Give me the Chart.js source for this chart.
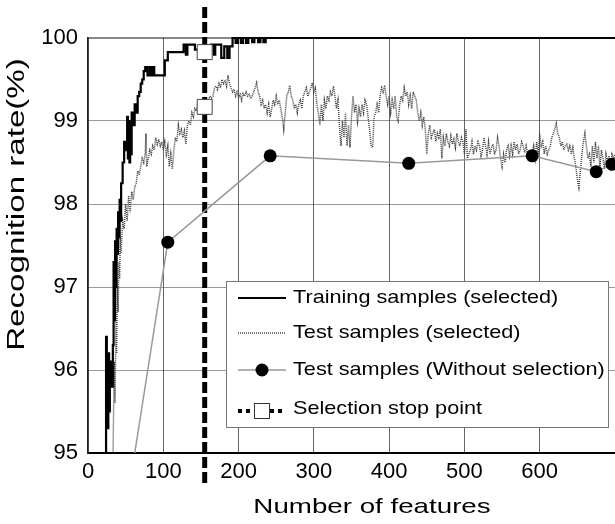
<!DOCTYPE html>
<html>
<head>
<meta charset="utf-8">
<script src="https://cdn.jsdelivr.net/npm/chart.js@4.4.0/dist/chart.umd.min.js"></script>
<style>
  html, body { margin: 0; padding: 0; background: #fff; }
  #wrap { width: 615px; height: 524px; }
</style>
</head>
<body>
<div id="wrap"><canvas id="chart" width="615" height="524"></canvas></div>
<script>
// ---------- values ----------

// training samples (selected) - held value, changes at each x
const trainX = [22, 24, 25, 27, 28, 29, 31, 33, 34, 35, 36, 37, 38, 39, 40, 41, 42, 43, 44, 46,
  48, 50, 52, 53, 54, 55, 56, 57, 58, 60, 62, 64, 66, 68, 70, 72, 74, 76, 79, 82,
  84, 86, 88, 102, 106, 127, 130, 132, 142, 163, 167, 169, 177, 181, 185, 188, 192, 196, 199, 203,
  206, 210, 213, 218, 221, 226, 229, 233, 236, 700];
const trainY = [94.5, 96.4, 95.3, 96.2, 95.5, 96.1, 95.8, 96.3, 97.3, 96.6, 97.55, 97.0, 97.7, 97.4, 97.9, 97.6, 98.05, 97.8, 98.25, 98.5,
  98.75, 98.65, 99.05, 98.55, 99.0, 98.5, 98.95, 98.6, 99.1, 98.95, 99.2, 99.1, 99.3, 99.35, 99.45, 99.5, 99.6, 99.65, 99.55, 99.65,
  99.55, 99.65, 99.55, 99.73, 99.83, 99.92, 99.8, 99.92, 99.86, 99.92, 99.8, 99.92, 99.76, 99.9, 99.76, 99.9, 100, 99.94, 100, 99.94,
  100, 99.94, 100, 99.95, 100, 99.95, 100, 99.95, 100, 100];

// test samples (selected)
const testX = [33, 34, 35, 36, 37, 38, 39, 40, 41, 42, 43, 44,
  46, 48, 50, 52, 54, 56, 58, 60, 62, 64, 66, 68, 70, 72, 74, 76, 77, 78,
  80, 82, 84, 86, 88, 90, 92, 94, 96, 98, 100, 102, 104, 106, 108, 110, 112, 114, 116, 118,
  120, 122, 124, 126, 128, 130, 132, 134, 136, 138, 140, 142, 144, 146, 148, 150, 152, 155, 158,
  160, 162, 164, 166, 168, 170, 172, 174, 176, 178, 180, 182, 184, 186, 188, 190, 192, 194, 196, 198,
  200, 202, 204, 206, 208, 210, 212, 214, 216, 218, 220, 222, 224, 226, 228, 230, 232, 234, 236, 238,
  240, 242, 244, 246, 248, 250, 252, 254, 256, 258, 260, 262, 264, 266, 268, 270, 272, 274, 276, 278,
  280, 282, 284, 286, 288, 290, 292, 294, 296, 298, 300, 302, 304, 306, 308, 310, 312, 314, 316, 318,
  320, 322, 324, 326, 328, 330, 332, 334, 336, 338, 340, 342, 344, 346, 348, 350, 352, 354, 356, 358,
  360, 362, 364, 366, 368, 370, 372, 374, 376, 378, 380, 382, 384, 386, 388, 390, 392, 394, 396, 398,
  400, 402, 404, 406, 408, 410, 412, 414, 416, 418, 420, 422, 424, 426, 428, 430, 432, 434, 436, 438,
  440, 442, 444, 446, 448, 450, 452, 454, 456, 458, 460, 462, 464, 466, 468, 470, 472, 474, 476, 478,
  480, 482, 484, 486, 488, 490, 492, 494, 496, 498, 500, 502, 504, 506, 508, 510, 512, 514, 516, 518,
  520, 522, 524, 526, 528, 530, 532, 534, 536, 538, 540, 542, 544, 546, 548, 550, 552, 554, 556, 558,
  560, 562, 564, 566, 568, 570, 572, 574, 576, 578, 580, 582, 584, 586, 588, 590, 592, 594, 596, 598,
  600, 602, 604, 606, 608, 610, 612, 614, 616, 618, 620, 622, 624, 626, 628, 630, 632, 634, 636, 638,
  640, 642, 644, 646, 648, 650, 652, 654, 656, 658, 660, 662, 664, 666, 668, 670, 672, 674, 676, 678,
  680, 682, 684, 686, 688, 690, 692, 694, 696, 698, 700];
const testY = [94.8, 95.5, 96.1, 95.6, 96.6, 96.2, 97.0, 96.7, 97.3, 97.1, 97.6, 97.4,
  97.8, 97.7, 98.0, 97.8, 98.1, 97.9, 98.15, 98.05, 98.2, 98.25, 98.4, 98.35, 98.45, 98.55, 98.5, 98.6, 98.85, 98.45,
  98.55, 98.65, 98.6, 98.7, 98.65, 98.8, 98.72, 98.78, 98.7, 98.75, 98.65, 98.75, 98.6, 98.7, 98.45, 98.6, 98.42, 98.65, 98.8, 98.75,
  98.95, 98.85, 98.9, 98.8, 98.88, 98.72, 98.95, 99.0, 98.95, 99.1, 99.05, 99.15, 99.12, 99.2, 99.15, 99.22, 99.17, 99.17, 99.2,
  99.25, 99.3, 99.28, 99.3, 99.4, 99.42, 99.38, 99.45, 99.4, 99.5, 99.45, 99.48, 99.42, 99.55, 99.45, 99.4, 99.35, 99.38, 99.3, 99.35,
  99.28, 99.32, 99.25, 99.33, 99.3, 99.35, 99.3, 99.32, 99.27, 99.3, 99.35, 99.4, 99.46, 99.35, 99.3, 99.2, 99.25, 99.15, 99.2, 99.1,
  99.2, 99.05, 99.15, 99.25, 99.2, 99.3, 99.2, 99.25, 99.15, 99.05, 98.9, 99.1, 99.3, 99.35, 99.43, 99.3, 99.25, 99.15, 99.2, 99.1,
  99.2, 99.25, 99.15, 99.3, 99.35, 99.4, 99.3, 99.35, 99.4, 99.46, 99.35, 99.4, 99.2, 99.1, 98.95, 99.2, 99.0, 99.25, 99.15, 99.3,
  99.25, 99.35, 99.3, 99.42, 99.3, 99.15, 99.25, 98.95, 98.7, 99.0, 98.8, 99.1, 98.7, 98.95, 98.68, 99.05, 99.3, 99.1, 99.2, 99.0,
  99.15, 99.05, 99.2, 99.1, 99.25, 99.2, 99.05, 98.9, 98.7, 98.68, 99.05, 99.1, 99.2, 99.1, 99.3, 99.4, 99.35, 99.43, 99.3, 99.2,
  99.3, 99.1, 99.25, 99.15, 99.3, 99.05, 99.0, 99.2, 99.3, 99.25, 99.4, 99.3, 99.35, 99.2, 99.3, 99.15, 99.35, 99.3, 99.25, 99.1,
  99.0, 99.1, 98.95, 99.05, 98.9, 98.6, 98.85, 98.95, 98.8, 98.85, 98.9, 98.75, 98.85, 98.8, 98.9, 98.55, 98.8, 98.7, 98.85, 98.75,
  98.7, 98.82, 98.72, 98.78, 98.68, 98.85, 98.75, 98.7, 98.8, 98.75, 98.6, 98.9, 98.55, 98.6, 98.65, 98.75, 98.6, 98.7, 98.65, 98.75,
  98.7, 98.58, 98.65, 98.8, 98.7, 98.6, 98.75, 98.6, 98.68, 98.72, 98.6, 98.65, 98.8, 98.7, 98.55, 98.45, 98.6, 98.5, 98.65, 98.7,
  98.58, 98.7, 98.6, 98.75, 98.65, 98.72, 98.6, 98.65, 98.75, 98.7, 98.62, 98.7, 98.6, 98.65, 98.58, 98.62, 98.7, 98.55, 98.75, 98.6,
  98.82, 98.7, 98.75, 98.6, 98.7, 98.6, 98.65, 98.7, 98.8, 98.85, 98.9, 98.97, 98.85, 98.8, 98.7, 98.75, 98.65, 98.7, 98.72, 98.65,
  98.7, 98.6, 98.68, 98.55, 98.45, 98.3, 98.2, 98.4, 98.6, 98.75, 98.85, 98.7, 98.55, 98.6, 98.45, 98.7, 98.5, 98.75, 98.55, 98.7,
  98.45, 98.65, 98.55, 98.42, 98.6, 98.5, 98.58, 98.45, 98.6, 98.55, 98.6];

// test samples (without selection)
const noSelX = [50, 106, 242, 426, 590, 675, 696];
const noSelY = [94.3, 97.54, 98.58, 98.49, 98.58, 98.39, 98.48];

// selection stop point
const stopX = [155, 155];
const stopY = [99.83, 99.17];

const legendLabels = [
  'Training samples (selected)',
  'Test samples (selected)',
  'Test samples (Without selection)',
  'Selection stop point'
];
const xTitle = 'Number of features';
const yTitle = 'Recognition rate(%)';

const pts = (xs, ys) => xs.map((x, i) => ({ x, y: ys[i] }));
const FONT = '"Liberation Sans", Arial, sans-serif';

// ---------- dashed stop line, behind the marks ----------
const stopLine = {
  id: 'stopLine',
  beforeDatasetsDraw(chart) {
    const ctx = chart.ctx;
    const x = chart.scales.x.getPixelForValue(stopX[0]);
    ctx.save();
    ctx.strokeStyle = '#000';
    ctx.lineWidth = 5;
    ctx.setLineDash([11, 4]);
    ctx.beginPath();
    ctx.moveTo(x, 7);
    ctx.lineTo(x, 483);
    ctx.stroke();
    ctx.restore();
  }
};

// ---------- legend box + axis titles (text is a bit wide in the original) ----------
const overlay = {
  id: 'overlay',
  afterDraw(chart) {
    const ctx = chart.ctx;
    ctx.save();

    // legend frame
    ctx.fillStyle = '#fff';
    ctx.fillRect(226, 281, 382, 146);
    ctx.strokeStyle = '#777';
    ctx.lineWidth = 1;
    ctx.strokeRect(226.5, 281.5, 382, 146);

    const rows = [298, 333, 370, 409];
    const x0 = 238, x1 = 286, xm = 262;

    // training
    ctx.strokeStyle = '#000';
    ctx.lineWidth = 2;
    ctx.beginPath(); ctx.moveTo(x0, rows[0]); ctx.lineTo(x1, rows[0]); ctx.stroke();
    // test selected
    ctx.strokeStyle = '#444';
    ctx.lineWidth = 1.5;
    ctx.setLineDash([1, 1]);
    ctx.beginPath(); ctx.moveTo(x0, rows[1]); ctx.lineTo(x1, rows[1]); ctx.stroke();
    ctx.setLineDash([]);
    // without selection
    ctx.strokeStyle = '#999';
    ctx.lineWidth = 1.5;
    ctx.beginPath(); ctx.moveTo(x0, rows[2]); ctx.lineTo(x1, rows[2]); ctx.stroke();
    ctx.fillStyle = '#000';
    ctx.beginPath(); ctx.arc(xm, rows[2], 6.5, 0, Math.PI * 2); ctx.fill();
    // stop point
    ctx.strokeStyle = '#000';
    ctx.lineWidth = 4;
    ctx.setLineDash([4, 4]);
    ctx.beginPath(); ctx.moveTo(x0, rows[3] + 2); ctx.lineTo(x1, rows[3] + 2); ctx.stroke();
    ctx.setLineDash([]);
    ctx.fillStyle = '#fff';
    ctx.fillRect(xm - 7.5, rows[3] - 5.5, 15, 15);
    ctx.strokeStyle = '#333';
    ctx.lineWidth = 1;
    ctx.strokeRect(xm - 7.5, rows[3] - 5.5, 15, 15);

    // legend text
    ctx.fillStyle = '#000';
    ctx.font = '19px ' + FONT;
    ctx.textAlign = 'left';
    ctx.textBaseline = 'middle';
    legendLabels.forEach((label, i) => {
      ctx.save();
      ctx.translate(293, rows[i]);
      ctx.scale(1.14, 1);
      ctx.fillText(label, 0, 0);
      ctx.restore();
    });

    // x title
    ctx.textAlign = 'center';
    ctx.textBaseline = 'alphabetic';
    ctx.font = '21px ' + FONT;
    ctx.save();
    ctx.translate(372, 513);
    ctx.scale(1.32, 1);
    ctx.fillText(xTitle, 0, 0);
    ctx.restore();

    // y title
    ctx.font = '23px ' + FONT;
    ctx.save();
    ctx.translate(23.5, 204.5);
    ctx.rotate(-Math.PI / 2);
    ctx.scale(1.44, 1);
    ctx.fillText(yTitle, 0, 0);
    ctx.restore();

    ctx.restore();
  }
};

new Chart(document.getElementById('chart'), {
  type: 'line',
  data: {
    datasets: [
      {
        label: legendLabels[3],
        data: pts(stopX, stopY),
        showLine: false,
        pointStyle: 'rect',
        pointRadius: 10.6,
        pointBackgroundColor: '#fff',
        pointBorderColor: '#444',
        pointBorderWidth: 1,
        clip: false
      },
      {
        label: legendLabels[2],
        data: pts(noSelX, noSelY),
        borderColor: '#999',
        borderWidth: 1.5,
        pointRadius: noSelX.map((x, i) => (i === 0 ? 0 : 6.5)),
        pointBackgroundColor: '#000',
        pointBorderColor: '#000',
        pointBorderWidth: 0,
        clip: { left: 0, top: 2, right: 0, bottom: 0 }
      },
      {
        label: legendLabels[0],
        data: pts(trainX, trainY),
        borderColor: '#000',
        borderWidth: 2.2,
        stepped: true,
        pointRadius: 0,
        clip: { left: 0, top: 2, right: 0, bottom: 0 }
      },
      {
        label: legendLabels[1],
        data: pts(testX, testY),
        borderColor: '#444',
        borderWidth: 1.5,
        borderDash: [1, 1],
        tension: 0,
        pointRadius: 0,
        clip: { left: 0, top: 2, right: 0, bottom: 0 }
      }
    ]
  },
  options: {
    responsive: false,
    animation: false,
    events: [],
    layout: { autoPadding: false, padding: { top: 38, left: 0, right: 0, bottom: 0 } },
    plugins: {
      legend: { display: false },
      tooltip: { enabled: false }
    },
    scales: {
      x: {
        type: 'linear',
        min: 0,
        max: 700,
        ticks: {
          stepSize: 100,
          color: '#000',
          padding: 6,
          maxRotation: 0,
          font: { family: FONT, size: 22 }
        },
        // the right edge (700) has no label or grid line in the original
        afterBuildTicks: (s) => { s.ticks = s.ticks.filter((t) => t.value < 700); },
        grid: { color: '#666', lineWidth: 1, drawTicks: false },
        border: { display: true, color: '#000', width: 2 },
        afterFit: (s) => { s.height = 71; }
      },
      y: {
        min: 95,
        max: 100,
        ticks: {
          stepSize: 1,
          color: '#000',
          padding: 10,
          font: { family: FONT, size: 22 }
        },
        grid: {
          color: (c) => (c.tick && c.tick.value === 100 ? '#111' : '#333'),
          lineWidth: (c) => (c.tick && c.tick.value === 100 ? 2 : 1),
          drawTicks: false
        },
        border: { display: true, color: '#222', width: 1.5, dash: [1, 1] },
        afterFit: (s) => { s.width = 88; }
      }
    }
  },
  plugins: [stopLine, overlay]
});
</script>
</body>
</html>
